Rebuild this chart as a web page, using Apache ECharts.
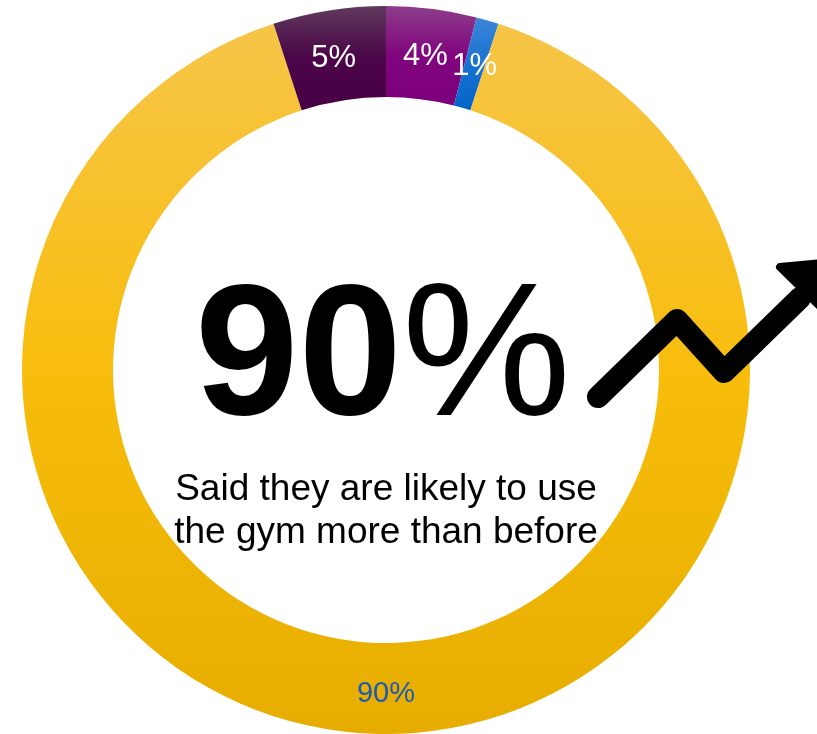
<!DOCTYPE html>
<html lang="en" style="height: 100%">
<head>
  <meta charset="utf-8">
  <title>Gym usage</title>
  <script type="text/javascript" src="https://fastly.jsdelivr.net/npm/echarts@6/dist/echarts.min.js"></script>
</head>
<body style="height: 100%; margin: 0; background: #fff">
  <div id="chart" style="width: 817px; height: 734px"></div>

  <script type="text/javascript">
    var dom = document.getElementById('chart');
    var myChart = echarts.init(dom);

    // clockwise from 12 o'clock
    let categories = ['More likely', 'Much more likely', 'Likely to use more', 'Less likely'];
    let values = [4, 1, 90, 5];
    let headline = '90';
    let caption = ['Said they are likely to use', 'the gym more than before'];

    let grad = (top, mid, bottom) => new echarts.graphic.LinearGradient(0, 0, 0, 1, [
      { offset: 0, color: top },
      { offset: 0.5, color: mid },
      { offset: 1, color: bottom }
    ]);

    let colors = [
      grad('#8d3d8b', '#80047d', '#7d007b'),
      grad('#3a86d9', '#1a72d2', '#0064c8'),
      grad('#f6c548', '#f8bd0b', '#e6ad00'),
      grad('#5f3a5c', '#4b0548', '#470045')
    ];
    let labelColors = ['#fff', '#fff', '#1d5ab4', '#fff'];

    let font = '"Liberation Sans", Arial, sans-serif';

    let option = {
      animation: false,
      series: [
        {
          type: 'pie',
          z: 1,
          center: [386, 370],
          radius: [273, 364],
          startAngle: 90,
          clockwise: true,
          silent: true,
          avoidLabelOverlap: false,
          minShowLabelAngle: 0,
          label: {
            show: true,
            position: 'inside',
            formatter: '{c}%',
            fontFamily: font,
            fontSize: 31
          },
          labelLine: { show: false },
          data: values.map((v, i) => ({
            name: categories[i],
            value: v,
            itemStyle: { color: colors[i] },
            label: {
              color: labelColors[i],
              fontSize: i === 2 ? 29 : 31,
              offset: i === 2 ? [0, 2] : (i === 3 ? [-2, 6] : [-1, 5])
            }
          }))
        }
      ],
      graphic: [
        {
          type: 'text',
          z: 100,
          x: 383,
          y: 363,
          style: {
            text: '{b|' + headline + '}{r|%}',
            align: 'center',
            verticalAlign: 'middle',
            rich: {
              b: { fontFamily: font, fontSize: 186, fontWeight: 'bold', fill: '#000' },
              r: { fontFamily: font, fontSize: 190, fontWeight: 'normal', fill: '#000' }
            }
          }
        },
        {
          type: 'text',
          z: 100,
          x: 386,
          y: 511,
          style: {
            text: caption.join('\n'),
            align: 'center',
            verticalAlign: 'middle',
            fontFamily: font,
            fontSize: 37,
            lineHeight: 43,
            fill: '#000'
          }
        },
        {
          type: 'polyline',
          z: 100,
          shape: { points: [[598, 397], [677, 320], [724, 372], [800, 298]] },
          style: { stroke: '#000', lineWidth: 22, lineCap: 'round', lineJoin: 'round', fill: null }
        },
        {
          type: 'polygon',
          z: 100,
          shape: { points: [[780, 267], [852, 260], [848, 334]] },
          style: { fill: '#000', stroke: '#000', lineWidth: 8, lineJoin: 'round' }
        }
      ]
    };

    myChart.setOption(option);
  </script>
</body>
</html>
